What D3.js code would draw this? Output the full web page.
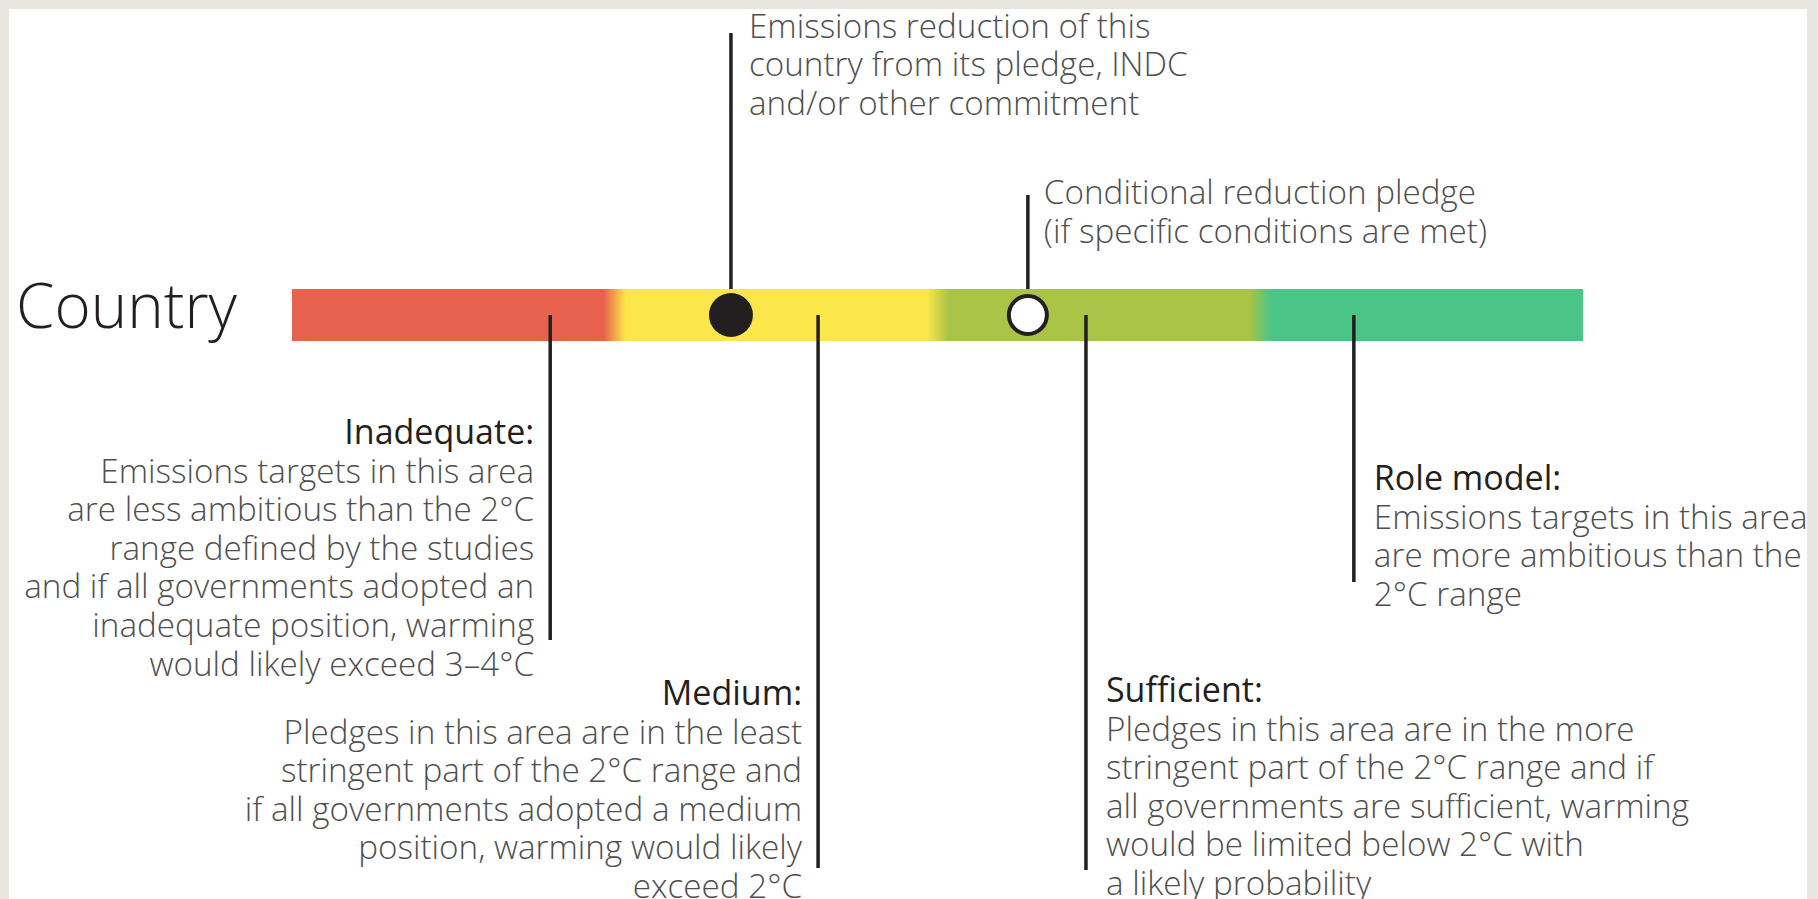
<!DOCTYPE html>
<html>
<head>
<meta charset="utf-8">
<script src="https://cdn.jsdelivr.net/npm/d3@7/dist/d3.min.js"></script>
<style>
html, body { margin: 0; padding: 0; background: #e8e6df; }
svg { display: block; }
</style>
</head>
<body>
<svg></svg>
<script>
width = 1818;
height = 899;

// rating bands along the bar
const categories = ["Inadequate", "Medium", "Sufficient", "Role model"];
const bandColors = ["#e8634d", "#fce74a", "#a9c447", "#4bc587"];
const bandEdges = [0, 1, 2, 3, 4];
// where each category's leader line meets the bar
const leaderValues = [0.8, 1.63, 2.46, 3.29];
// the two pledge markers
const pledgeValue = 1.36;
const conditionalValue = 2.28;

const descriptions = [
    ["Emissions targets in this area", "are less ambitious than the 2°C", "range defined by the studies",
     "and if all governments adopted an", "inadequate position, warming", "would likely exceed 3–4°C"],
    ["Pledges in this area are in the least", "stringent part of the 2°C range and",
     "if all governments adopted a medium", "position, warming would likely", "exceed 2°C"],
    ["Pledges in this area are in the more", "stringent part of the 2°C range and if",
     "all governments are sufficient, warming", "would be limited below 2°C with", "a likely probability"],
    ["Emissions targets in this area", "are more ambitious than the", "2°C range"]
];
const pledgeNote = ["Emissions reduction of this", "country from its pledge, INDC", "and/or other commitment"];
const conditionalNote = ["Conditional reduction pledge", "(if specific conditions are met)"];

const FONT = "'Open Sans', 'Noto Sans', sans-serif";
const INK = "#231f20";
const BODY = "#4f4f4f";

let svg = d3.select("svg").attr("width", width).attr("height", height);

svg.append("rect")
    .attr("x", 9).attr("y", 9)
    .attr("width", 1798).attr("height", height)
    .style("fill", "white");

let x = d3.scaleLinear().domain([0, 4]).range([292, 1583]);
let barTop = 289, barH = 52, barMid = barTop + barH / 2;

// size text so one sample line has the width seen in the picture
function fitSize(sample, target, weight) {
    let t = svg.append("text").style("font-family", FONT).style("font-weight", weight)
        .style("font-size", "30px").text(sample);
    let w = t.node().getComputedTextLength();
    t.remove();
    return 30 * target / w;
}
const bodySize = fitSize("Emissions targets in this area", 434, 300);
const titleSize = fitSize("Inadequate:", 190, 500);
const countrySize = fitSize("Country", 221, 300);
const lh = 38.6;

// gradient bar
let grad = svg.append("defs").append("linearGradient")
    .attr("id", "bandGrad")
    .attr("gradientUnits", "userSpaceOnUse")
    .attr("x1", x(0)).attr("x2", x(4))
    .attr("y1", 0).attr("y2", 0);
const blend = 0.034;
bandColors.forEach(function(c, i) {
    let a = i === 0 ? bandEdges[i] : bandEdges[i] + blend;
    let b = i === bandColors.length - 1 ? bandEdges[i + 1] : bandEdges[i + 1] - blend;
    grad.append("stop").attr("offset", a / 4).attr("stop-color", c);
    grad.append("stop").attr("offset", b / 4).attr("stop-color", c);
});

svg.append("rect")
    .attr("x", x(0)).attr("y", barTop)
    .attr("width", x(4) - x(0)).attr("height", barH)
    .style("fill", "url(#bandGrad)");

svg.append("text")
    .attr("x", 16).attr("y", 328)
    .style("font-family", FONT).style("font-weight", 300)
    .style("font-size", countrySize + "px")
    .style("fill", INK)
    .text("Country");

function line(x0, y0, y1) {
    svg.append("line")
        .attr("x1", x0).attr("x2", x0)
        .attr("y1", y0).attr("y2", y1)
        .style("stroke", INK)
        .style("stroke-width", 3.5);
}

function block(lines, title, tx, y0, anchor) {
    let g = svg.append("g");
    let all = title ? [title].concat(lines) : lines;
    all.forEach(function(s, i) {
        let isTitle = title && i === 0;
        g.append("text")
            .attr("x", tx)
            .attr("y", y0 + i * lh)
            .attr("text-anchor", anchor)
            .style("font-family", FONT)
            .style("font-weight", isTitle ? 500 : 300)
            .style("font-size", (isTitle ? titleSize : bodySize) + "px")
            .style("fill", isTitle ? INK : BODY)
            .text(s);
    });
}

// category leaders and explanations
const leaderEnds = [640, 868, 870, 582];
const titleBaselines = [444, 705, 702, 490];
leaderValues.forEach(function(v, i) {
    let lx = x(v);
    line(lx, barMid, leaderEnds[i]);
    let right = i < 2;
    block(descriptions[i], categories[i] + ":", right ? lx - 16 : lx + 20, titleBaselines[i], right ? "end" : "start");
});

// pledge markers
line(x(pledgeValue), 33, barTop);
line(x(conditionalValue), 195, barTop);

svg.append("circle")
    .attr("cx", x(pledgeValue)).attr("cy", barMid)
    .attr("r", 22)
    .style("fill", INK);

svg.append("circle")
    .attr("cx", x(conditionalValue)).attr("cy", barMid)
    .attr("r", 19)
    .style("fill", "white")
    .style("stroke", INK)
    .style("stroke-width", 4);

block(pledgeNote, null, x(pledgeValue) + 18, 37.5, "start");
block(conditionalNote, null, x(conditionalValue) + 16, 204, "start");
</script>
</body>
</html>
